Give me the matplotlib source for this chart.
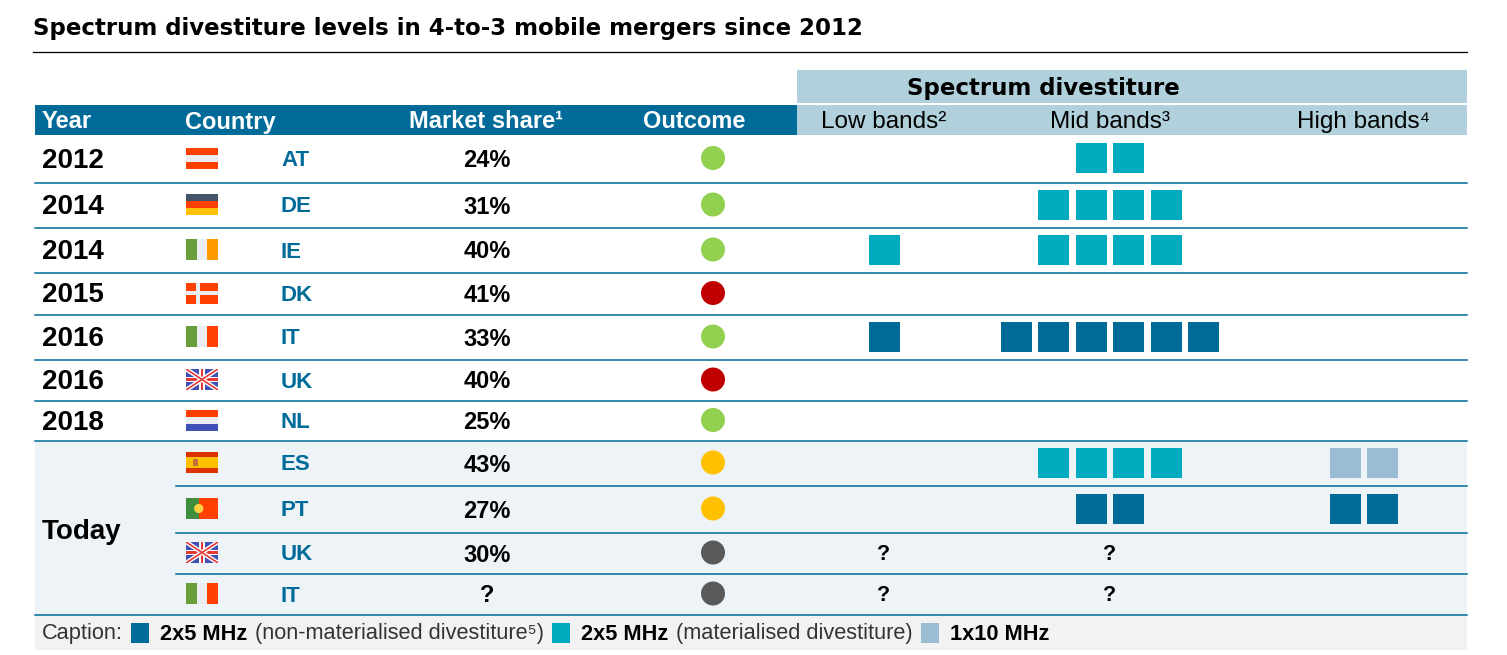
import matplotlib
matplotlib.use("Agg")
import matplotlib.pyplot as plt
from matplotlib.patches import Rectangle, Circle
from matplotlib.lines import Line2D

# === DATA ===
title = "Spectrum divestiture levels in 4-to-3 mobile mergers since 2012"
years = ["2012", "2014", "2014", "2015", "2016", "2016", "2018"]
today_label = "Today"
countries = ["AT", "DE", "IE", "DK", "IT", "UK", "NL", "ES", "PT", "UK", "IT"]
market_share = ["24%", "31%", "40%", "41%", "33%", "40%", "25%", "43%", "27%", "30%", "?"]
outcome = ["cleared", "cleared", "cleared", "blocked", "cleared", "blocked", "cleared",
           "pending", "pending", "open", "open"]
low_bands = [0, 0, 1, 0, 1, 0, 0, 0, 0, "?", "?"]
low_kind = [None, None, "mat", None, "nonmat", None, None, None, None, None, None]
mid_bands = [2, 4, 4, 0, 6, 0, 0, 4, 2, "?", "?"]
mid_kind = ["mat", "mat", "mat", None, "nonmat", None, None, "mat", "nonmat", None, None]
high_bands = [0, 0, 0, 0, 0, 0, 0, 2, 2, 0, 0]
high_kind = [None, None, None, None, None, None, None, "1x10", "nonmat", None, None]

headers = ["Year", "Country", "Market share\u00b9", "Outcome"]
band_headers = ["Low bands\u00b2", "Mid bands\u00b3", "High bands\u2074"]

# === STYLE ===
DARK = "#006B99"
TEAL = "#00ABC0"
LIGHT = "#9BBDD4"
HEAD_LIGHT = "#B0D1DC"
kind_color = {"nonmat": DARK, "mat": TEAL, "1x10": LIGHT}
outcome_color = {"cleared": "#92D050", "blocked": "#C00000",
                 "pending": "#FFC000", "open": "#595959"}
SANS = ["Liberation Sans", "DejaVu Sans"]

W, H = 1507, 655
row_edges = [135, 183, 228, 273, 315, 360, 401, 441, 486, 533, 574, 615]
x_left, x_right = 35, 1467
x_year, x_flag, x_code, x_share, x_out = 42, 186, 281, 487, 713
band_x = [884, 1110, 1364]
sq_w, sq_h, sq_pitch = 31, 30, 37.5

fig = plt.figure(figsize=(W / 100, H / 100), dpi=100)
ax = fig.add_axes([0, 0, 1, 1])
ax.set_xlim(0, W)
ax.set_ylim(H, 0)
ax.axis("off")

# title
ax.text(33, 29, title, fontsize=16.5, fontweight="bold", family="DejaVu Sans",
        va="center", ha="left", color="black")
ax.plot([33, x_right], [52, 52], color="black", lw=0.9)

# header bands
ax.add_patch(Rectangle((797, 70), x_right - 797, 65, color=HEAD_LIGHT, lw=0))
ax.plot([797, x_right], [104, 104], color="white", lw=1.5)
ax.add_patch(Rectangle((x_left, 105), 797 - x_left, 30, color=DARK, lw=0))
ax.text(1043, 89, "Spectrum divestiture", fontsize=16.5, fontweight="bold",
        family="DejaVu Sans", ha="center", va="center", color="black")

hy = 122
ax.text(x_year, hy, headers[0], fontsize=17, fontweight="bold", family=SANS,
        color="white", va="center", ha="left")
ax.text(185, hy, headers[1], fontsize=17, fontweight="bold", family=SANS,
        color="white", va="center", ha="left")
ax.text(486, hy, headers[2], fontsize=17, fontweight="bold", family=SANS,
        color="white", va="center", ha="center")
ax.text(694, hy, headers[3], fontsize=17, fontweight="bold", family=SANS,
        color="white", va="center", ha="center")
for bx, lab in zip(band_x, band_headers):
    ax.text(bx, hy, lab, fontsize=17.5, family=SANS, color="black",
            va="center", ha="center")

# today block and caption backgrounds
ax.add_patch(Rectangle((x_left, row_edges[7]), x_right - x_left,
                       row_edges[-1] - row_edges[7], color="#EEF3F8", lw=0))
ax.add_patch(Rectangle((x_left, row_edges[-1]), x_right - x_left, 35,
                       color="#F2F2F2", lw=0))

# row lines
for i, y in enumerate(row_edges[1:]):
    start = 176 if 7 < i + 1 < len(row_edges) - 1 else x_left
    ax.plot([start, x_right], [y, y], color=DARK, lw=1.1)


def flag(code, cx, cy, w=32, h=21):
    x0, y0 = cx - w / 2, cy - h / 2
    def rect(x, y, ww, hh, c):
        ax.add_patch(Rectangle((x, y), ww, hh, color=c, lw=0))
    red, white = "#FF4000", "#EAEEF2"
    if code == "AT":
        rect(x0, y0, w, h, red); rect(x0, y0 + h / 3, w, h / 3, white)
    elif code == "DE":
        rect(x0, y0, w, h / 3, "#44546A"); rect(x0, y0 + h / 3, w, h / 3, red)
        rect(x0, y0 + 2 * h / 3, w, h / 3, "#FFC000")
    elif code in ("IE", "IT"):
        rect(x0, y0, w / 3, h, "#6A9E3A"); rect(x0 + w / 3, y0, w / 3, h, white)
        rect(x0 + 2 * w / 3, y0, w / 3, h, "#FF9900" if code == "IE" else red)
    elif code == "DK":
        rect(x0, y0, w, h, red); rect(x0 + w * 0.3, y0, w * 0.14, h, white)
        rect(x0, y0 + h * 0.42, w, h * 0.16, white)
    elif code == "NL":
        rect(x0, y0, w, h / 3, red); rect(x0, y0 + h / 3, w, h / 3, white)
        rect(x0, y0 + 2 * h / 3, w, h / 3, "#3F51B5")
    elif code == "ES":
        rect(x0, y0, w, h, "#DD3300"); rect(x0, y0 + h / 4, w, h / 2, "#FFC000")
        rect(x0 + w * 0.22, y0 + h * 0.33, w * 0.16, h * 0.34, "#C0703A")
    elif code == "PT":
        rect(x0, y0, w * 0.4, h, "#3E8E3E"); rect(x0 + w * 0.4, y0, w * 0.6, h, red)
        ax.add_patch(Circle((x0 + w * 0.4, cy), h * 0.22, color="#FFD040", lw=0))
    elif code == "UK":
        bg = Rectangle((x0, y0), w, h, color="#3F51B5", lw=0)
        ax.add_patch(bg)
        for c, lw in (("white", 3.2), ("#E53935", 1.2)):
            for xs, ys in (([x0, x0 + w], [y0, y0 + h]), ([x0, x0 + w], [y0 + h, y0])):
                ln = Line2D(xs, ys, color=c, lw=lw, solid_capstyle="butt")
                ax.add_line(ln)
                ln.set_clip_path(bg)
        rect(x0 + w * 0.42, y0, w * 0.16, h, "white")
        rect(x0, y0 + h * 0.38, w, h * 0.24, "white")
        rect(x0 + w * 0.46, y0, w * 0.08, h, "#E53935")
        rect(x0, y0 + h * 0.44, w, h * 0.12, "#E53935")


def blocks(n, kind, cx, cy):
    if n == "?":
        ax.text(cx, cy + 1, "?", fontsize=15.5, fontweight="bold", family=SANS,
                ha="center", va="center", color="black")
        return
    start = cx - (n - 1) * sq_pitch / 2
    for k in range(n):
        ax.add_patch(Rectangle((start + k * sq_pitch - sq_w / 2, cy - sq_h / 2 - 1),
                               sq_w, sq_h, color=kind_color[kind], lw=0))


for i, code in enumerate(countries):
    cy = (row_edges[i] + row_edges[i + 1]) / 2
    if i < len(years):
        ax.text(x_year, cy + 1.5, years[i], fontsize=20, fontweight="bold",
                family=SANS, ha="left", va="center", color="black")
    flag(code, x_flag + 16, cy - 1)
    ax.text(x_code, cy + 1.5, code, fontsize=16, fontweight="bold", family=SANS,
            ha="left", va="center", color=DARK)
    ax.text(x_share, cy + 1.5, market_share[i], fontsize=17, fontweight="bold",
            family=SANS, ha="center", va="center", color="black")
    ax.add_patch(Circle((x_out, cy - 1), 12, color=outcome_color[outcome[i]], lw=0))
    blocks(low_bands[i], low_kind[i], band_x[0], cy)
    blocks(mid_bands[i], mid_kind[i], band_x[1], cy)
    blocks(high_bands[i], high_kind[i], band_x[2], cy)

ax.text(x_year, (row_edges[7] + row_edges[-1]) / 2 + 4, today_label, fontsize=20,
        fontweight="bold", family=SANS, ha="left", va="center", color="black")

# caption legend, placed piece by piece
cap_y = 634
pieces = [("Caption:", "normal"), ("sq", "nonmat"), ("2x5 MHz", "bold"),
          ("(non-materialised divestiture\u2075)", "normal"), ("sq", "mat"),
          ("2x5 MHz", "bold"), ("(materialised divestiture)", "normal"),
          ("sq", "1x10"), ("1x10 MHz", "bold")]
renderer = fig.canvas.get_renderer()
x = x_year
for txt, style in pieces:
    if txt == "sq":
        ax.add_patch(Rectangle((x, cap_y - 11), 18, 20, color=kind_color[style], lw=0))
        x += 29
        continue
    t = ax.text(x, cap_y, txt, fontsize=15.7, fontweight=style, family=SANS,
                ha="left", va="center", color="#333333" if style == "normal" else "black")
    bb = t.get_window_extent(renderer)
    x += bb.width + 8

fig.savefig("out.png", dpi=100)
